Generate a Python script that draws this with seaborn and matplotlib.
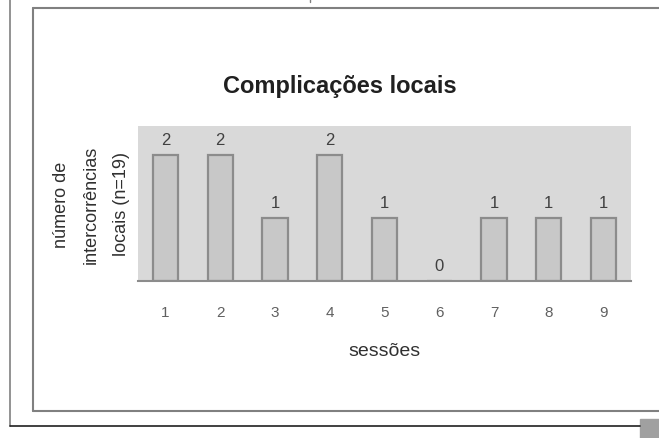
import matplotlib
matplotlib.use("Agg")
import matplotlib.pyplot as plt
import numpy as np
import pandas as pd
import seaborn as sns
from matplotlib.lines import Line2D
from matplotlib.patches import Rectangle

sessoes = ["1", "2", "3", "4", "5", "6", "7", "8", "9"]
intercorrencias = [2, 2, 1, 2, 1, 0, 1, 1, 1]

df = pd.DataFrame({"sessao": sessoes, "n": intercorrencias})

sns.set_style("white")
plt.rcParams["font.family"] = ["Liberation Sans", "DejaVu Sans"]

fig = plt.figure(figsize=(6.59, 4.39), dpi=100)
W, H = 659, 439

def fx(x):
    return x / W

def fy(y):
    return 1 - y / H

# outer frames
fig.add_artist(Line2D([fx(10), fx(10)], [fy(0), fy(427)], color="#808080", lw=1.2))
fig.add_artist(Line2D([fx(10), fx(640)], [fy(427), fy(427)], color="#202020", lw=1.2))
fig.add_artist(Line2D([fx(33), fx(33)], [fy(9), fy(412)], color="#808080", lw=1.5))
fig.add_artist(Line2D([fx(33), fx(659)], [fy(9), fy(9)], color="#808080", lw=1.5))
fig.add_artist(Line2D([fx(33), fx(659)], [fy(412), fy(412)], color="#808080", lw=1.5))
fig.add_artist(Line2D([fx(310), fx(310)], [fy(0), fy(3)], color="#808080", lw=1.0))
fig.add_artist(Rectangle((fx(640), fy(439)), 19 / W, 19 / H, color="#a0a0a0",
                         transform=fig.transFigure))

ax = fig.add_axes([fx(138), fy(282), 493 / W, 155 / H])
sns.barplot(data=df, x="sessao", y="n", color="#c8c8c8", width=0.46,
            edgecolor="#8c8c8c", linewidth=1.6, saturation=1, ax=ax)
ax.set_facecolor("#d9d9d9")
ax.set_ylim(0, 2.46)
ax.set_xlim(-0.5, 8.5)
ax.set_yticks([])

for i, v in enumerate(intercorrencias):
    ax.text(i, v + 0.12, str(v), ha="center", va="bottom", fontsize=12, color="#404040")

for s in ["top", "right", "left"]:
    ax.spines[s].set_visible(False)
ax.spines["bottom"].set_color("#8c8c8c")
ax.spines["bottom"].set_linewidth(1.5)

ax.set_xticks(np.arange(-0.5, 9.0, 1), minor=True)
ax.tick_params(axis="x", which="minor", length=5, color="#8c8c8c", width=1)
ax.tick_params(axis="x", which="major", length=0, pad=17, labelsize=11, labelcolor="#606060")

ax.set_xlabel("sessões", fontsize=14, color="#303030", labelpad=17)
ax.set_ylabel("número de\nintercorrências\nlocais (n=19)", fontsize=13, color="#303030",
              linespacing=2.0, labelpad=6)

fig.text(fx(340), fy(86), "Complicações locais", ha="center", va="center",
         fontsize=17, fontweight="bold", color="#202020")

fig.savefig("out.png", dpi=100)
